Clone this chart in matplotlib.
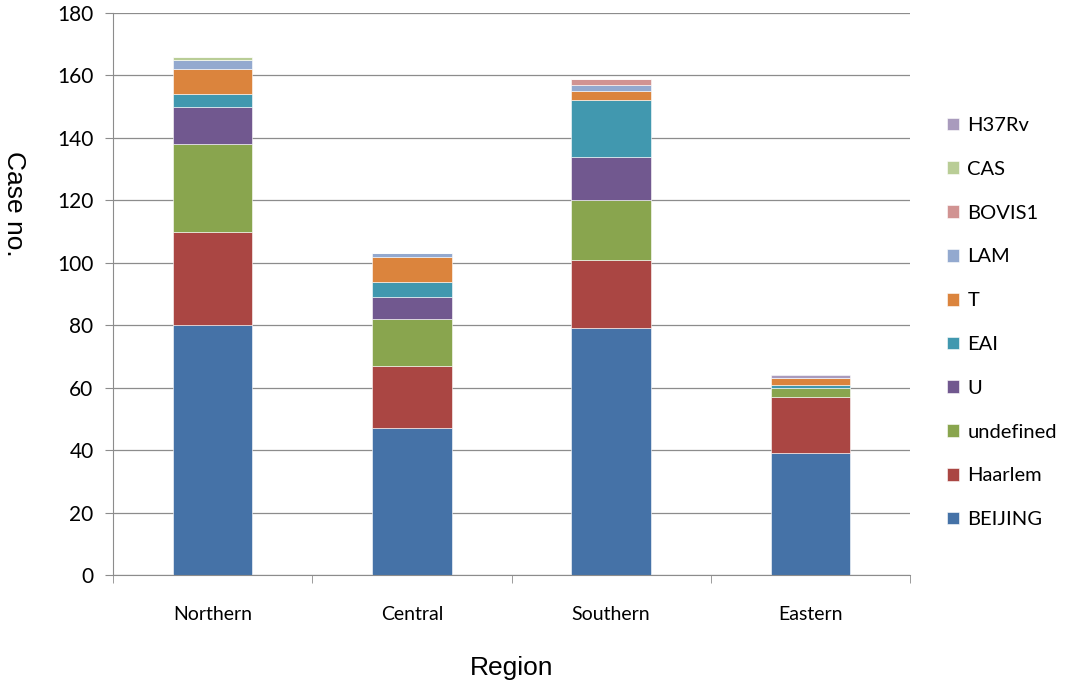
import numpy as np
import matplotlib.pyplot as plt

regions = ['Northern', 'Central', 'Southern', 'Eastern']
lineages = ['BEIJING', 'Haarlem', 'undefined', 'U', 'EAI', 'T', 'LAM', 'BOVIS1', 'CAS', 'H37Rv']

beijing = [80, 47, 79, 39]
haarlem = [30, 20, 22, 18]
undefined = [28, 15, 19, 3]
u = [12, 7, 14, 0]
eai = [4, 5, 18, 1]
t = [8, 8, 3, 2]
lam = [3, 1, 2, 0]
bovis1 = [0, 0, 2, 0]
cas = [1, 0, 0, 0]
h37rv = [0, 0, 0, 1]

counts = [beijing, haarlem, undefined, u, eai, t, lam, bovis1, cas, h37rv]
colors = ['#4572A7', '#AA4643', '#89A54E', '#71588F', '#4198AF',
          '#DB843D', '#93A9CF', '#D19392', '#B9CD96', '#A99BBD']

fig = plt.figure(figsize=(10.67, 6.86), dpi=100)
ax = fig.add_axes([113/1067, 1 - 575/686, 797/1067, 562/686])

# stacked bars, one layer per lineage
x = np.arange(len(regions))
bottom = np.zeros(len(regions))
handles = []
for name, vals, col in zip(lineages, counts, colors):
    vals = np.array(vals, dtype=float)
    b = ax.bar(x, vals, width=0.4, bottom=bottom, color=col, label=name,
               edgecolor='#ffffff', linewidth=0.4)
    handles.append(b)
    bottom += vals

ax.set_xlim(-0.5, 3.5)
ax.set_ylim(0, 180)
ax.set_yticks(range(0, 181, 20))
ax.yaxis.grid(True, color='#8c8c8c', lw=0.9)
ax.set_axisbelow(True)

for side in ['top', 'right']:
    ax.spines[side].set_visible(False)
for side in ['left', 'bottom']:
    ax.spines[side].set_color('#8c8c8c')

ax.set_xticks(x)
ax.set_xticklabels(regions, fontsize=14, family='Lato')
ax.tick_params(axis='x', length=0, pad=22)
ax.set_xticks(np.arange(-0.5, 3.6, 1), minor=True)
ax.tick_params(axis='x', which='minor', length=6, color='#8c8c8c', direction='out')
ax.tick_params(axis='y', length=6, color='#8c8c8c', labelsize=15, pad=8)
for lbl in ax.get_yticklabels():
    lbl.set_family('Lato')

ax.set_ylabel('Case no.', fontsize=19, family='Liberation Sans', rotation=270,
              va='center', ha='center')
ax.yaxis.set_label_coords(-0.124, 0.66)
ax.set_xlabel('Region', fontsize=19, family='Liberation Sans', va='center')
ax.xaxis.set_label_coords(0.5, -0.165)

fig.legend(handles[::-1], lineages[::-1], loc='upper left',
           bbox_to_anchor=(929/1067, 1 - 99/686), frameon=False,
           prop={'family': 'Lato', 'size': 14.5},
           handlelength=0.6, handleheight=0.6, handletextpad=0.4,
           labelspacing=1.33)

fig.savefig('out.png', dpi=100)
